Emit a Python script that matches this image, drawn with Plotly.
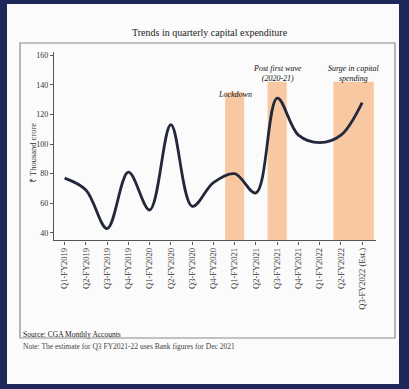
import plotly.graph_objects as go

# Quarterly capital expenditure, ₹ thousand crore
quarters = [
    "Q1-FY2019", "Q2-FY2019", "Q3-FY2019", "Q4-FY2019",
    "Q1-FY2020", "Q2-FY2020", "Q3-FY2020", "Q4-FY2020",
    "Q1-FY2021", "Q2-FY2021", "Q3-FY2021", "Q4-FY2021",
    "Q1-FY2022", "Q2-FY2022", "Q3-FY2022 (Est.)",
]
capex = [77, 69, 43, 81, 55.5, 113, 58, 74, 80, 67, 131, 106, 101, 106, 128]

# Highlighted periods: (label, first index, last index, band top value)
band_labels = ["Lockdown", "Post first wave<br>(2020-21)", "Surge in capital<br>spending"]
band_start = [7.55, 9.55, 12.65]
band_end = [8.45, 10.45, 14.55]
band_top = [135, 142, 142]

W, H = 409, 389
SERIF = "Liberation Serif"
NAVY = "#1d2858"
BAND = "#f8c8a2"

def px_x(p):
    return p / W

def px_y(p):
    return 1 - p / H

idx = list(range(len(quarters)))

fig = go.Figure()
fig.add_trace(go.Scatter(
    x=idx, y=capex, mode="lines",
    line=dict(color="#23283a", width=2.8, shape="spline", smoothing=1.0),
    hoverinfo="skip", showlegend=False,
))

shapes = [
    # white page panel
    dict(type="rect", xref="paper", yref="paper",
         x0=px_x(7), x1=px_x(399), y0=px_y(384), y1=px_y(4),
         fillcolor="#fbfbfb", line=dict(width=0), layer="below"),
    # chart frame
    dict(type="rect", xref="paper", yref="paper",
         x0=px_x(20), x1=px_x(395), y0=px_y(338), y1=px_y(43),
         fillcolor="rgba(0,0,0,0)", line=dict(color="#8a8a8a", width=1.2), layer="below"),
]
for s, e, top in zip(band_start, band_end, band_top):
    shapes.append(dict(type="rect", xref="x", yref="y", x0=s, x1=e, y0=35, y1=top,
                       fillcolor=BAND, line=dict(width=0), layer="below"))

annotations = [
    dict(text="Trends in quarterly capital expenditure", xref="paper", yref="paper",
         x=px_x(210), y=px_y(25), showarrow=False,
         font=dict(family=SERIF, size=10, color="#222")),
    dict(text="₹ Thousand crore", xref="paper", yref="paper",
         x=px_x(26), y=px_y(121), textangle=-90, showarrow=False,
         font=dict(family=SERIF, size=8.5, color="#333")),
    dict(text="Source: CGA Monthly Accounts", xref="paper", yref="paper",
         x=px_x(21), y=px_y(341), xanchor="left", showarrow=False,
         font=dict(family=SERIF, size=7.5, color="#222")),
    dict(text="Note: The estimate for Q3 FY2021-22 uses Bank figures for Dec 2021",
         xref="paper", yref="paper", x=px_x(21), y=px_y(353), xanchor="left",
         showarrow=False, font=dict(family=SERIF, size=7.5, color="#444")),
]
label_x = [8, 10, 13.6]
label_y = [88, 62, 62]
for txt, lx, ly in zip(band_labels, label_x, label_y):
    annotations.append(dict(text="<i>" + txt + "</i>", xref="x", yref="paper",
                            x=lx, y=px_y(ly), showarrow=False,
                            font=dict(family=SERIF, size=8, color="#111")))

fig.update_layout(
    width=W, height=H, autosize=False,
    margin=dict(l=0, r=0, t=0, b=0),
    paper_bgcolor=NAVY, plot_bgcolor="rgba(0,0,0,0)",
    shapes=shapes, annotations=annotations,
    xaxis=dict(
        domain=[px_x(54), px_x(376)], range=[-0.5, 14.65],
        tickmode="array", tickvals=idx, ticktext=quarters, tickangle=-90,
        tickfont=dict(family=SERIF, size=8.5, color="#333"),
        showline=True, linecolor="#555", linewidth=1.2,
        ticks="outside", ticklen=3, tickcolor="#555",
        showgrid=False, zeroline=False,
    ),
    yaxis=dict(
        domain=[px_y(240.4), px_y(52.1)], range=[35, 162],
        tickvals=[40, 60, 80, 100, 120, 140, 160],
        tickfont=dict(family=SERIF, size=8, color="#333"),
        showline=True, linecolor="#555", linewidth=1.2,
        ticks="outside", ticklen=3, tickcolor="#555",
        showgrid=False, zeroline=False,
    ),
)

fig.write_html("out.html")
